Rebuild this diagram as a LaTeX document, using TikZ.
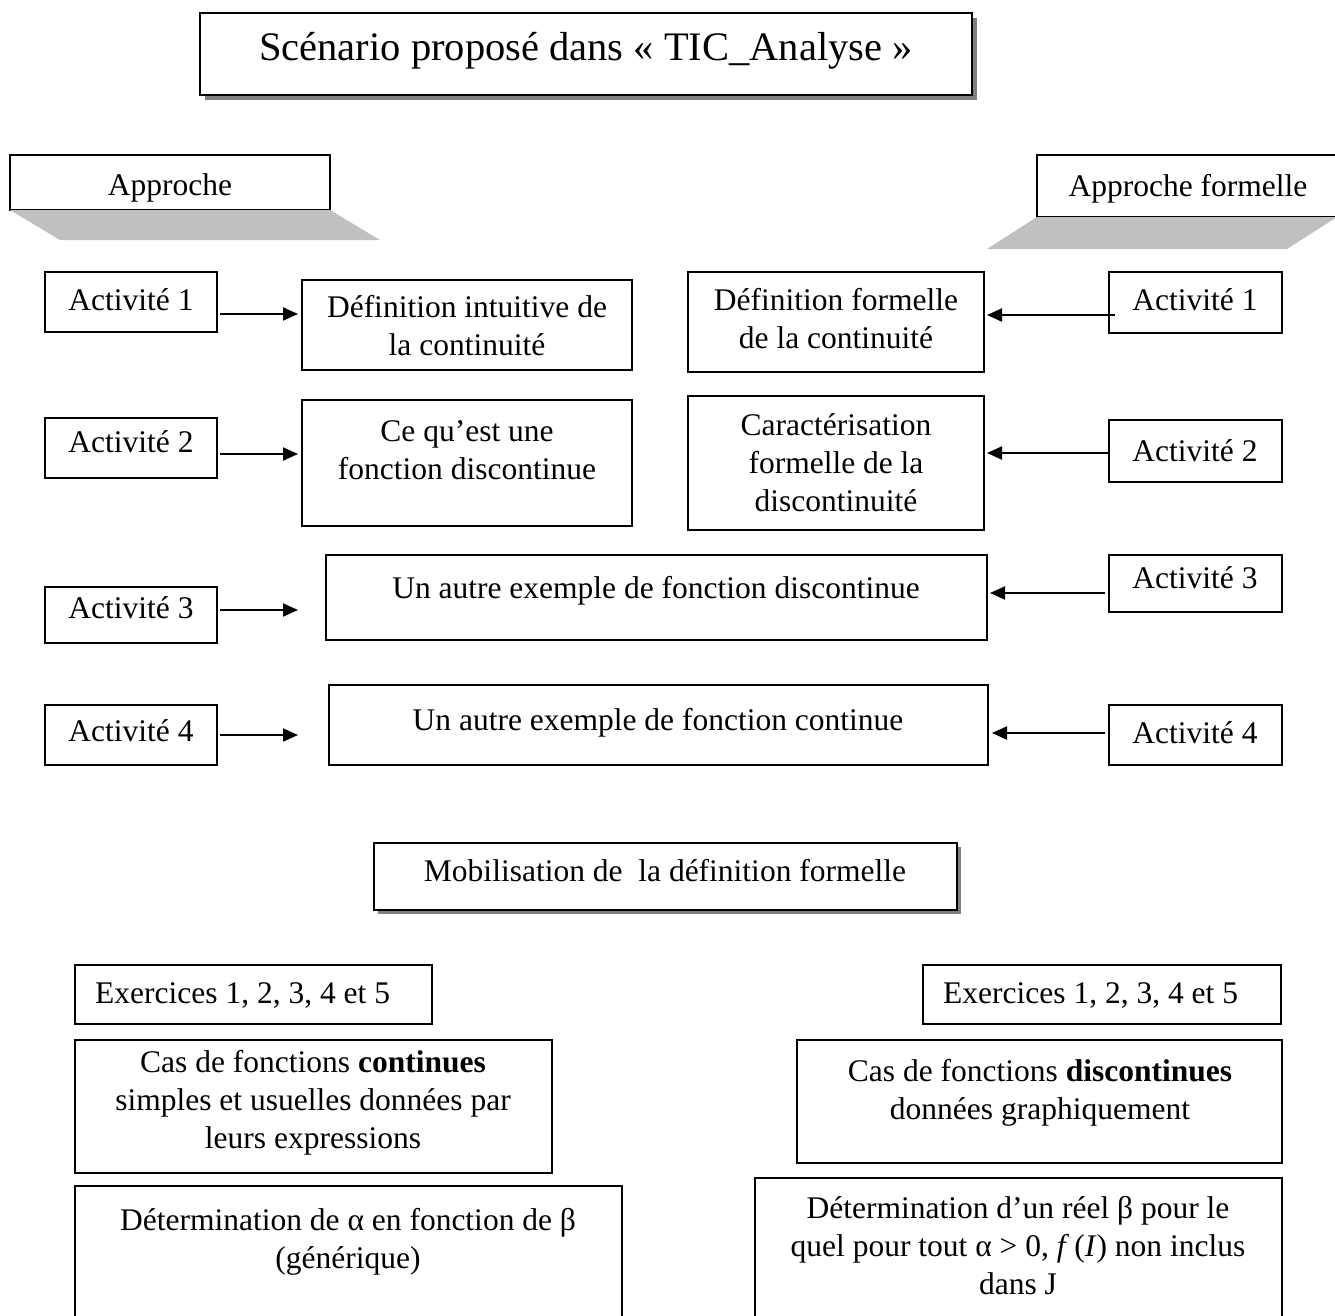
\documentclass[tikz,border=0pt]{standalone}
\usepackage{fontspec}
\setmainfont{Liberation Serif}
\usetikzlibrary{arrows.meta}
\definecolor{lightshadow}{HTML}{C0C0C0}
\definecolor{darkshadow}{HTML}{808080}
\newcommand\bx[6][]{\node[box,#1,minimum width={(#5-#3)*1pt},minimum height={(#6-#4)*1pt}] (#2) at ({(#3+#5)/2},{(#4+#6)/2}) {};}
\begin{document}
\begin{tikzpicture}[x=1pt,y=-1pt,
  box/.style={draw=black,fill=white,line width=2pt,inner sep=0pt,outer sep=0pt},
  txt/.style={anchor=base,inner sep=0pt,align=center,font=\fontsize{31.5}{38}\selectfont},
  ttl/.style={anchor=base,inner sep=0pt,font=\fontsize{40.5}{48}\selectfont},
  arr/.style={line width=2pt,-{Triangle[length=15pt,width=13pt]}}]
\useasboundingbox (0,0) rectangle (1335,1315);
\clip (0,0) rectangle (1335,1315);
\fill[white] (0,0) rectangle (1335,1315);
% title
\fill[darkshadow] (205,18) rectangle (977,100);
\bx{title}{200}{13}{972}{95}
\node[ttl] (ttitle) at (586,60) {Scénario proposé dans « TIC\_Analyse »};
% approche boxes with shadows
\bx{appL}{10}{155}{330}{210}
\fill[lightshadow] (appL.south west) -- (appL.south east) -- ++(50,30) -- ([shift={(50,30)}]appL.south west) -- cycle;
\node[txt] (tappL) at (170,195) {Approche};
\bx{appR}{1037}{155}{1337}{217}
\fill[lightshadow] (appR.south west) -- (appR.south east) -- ++(-50,32) -- ([shift={(-50,32)}]appR.south west) -- cycle;
\node[txt] (tappR) at (1188,196) {Approche formelle};
% row 1
\bx{a1L}{45}{272}{217}{332}
\node[txt] (ta1L) at (131,310) {Activité 1};
\bx{d1L}{302}{280}{632}{370}
\node[txt] (td1L) at (467,355) {Définition intuitive de\\la continuité};
\bx{d1R}{688}{272}{984}{372}
\node[txt] (td1R) at (836,348) {Définition formelle\\de la continuité};
\bx{a1R}{1109}{272}{1282}{333}
\node[txt] (ta1R) at (1195,310) {Activité 1};
% row 2
\bx{a2L}{45}{418}{217}{478}
\node[txt] (ta2L) at (131,452) {Activité 2};
\bx{d2L}{302}{400}{632}{526}
\node[txt] (td2L) at (467,479) {Ce qu’est une\\fonction discontinue};
\bx{d2R}{688}{396}{984}{530}
\node[txt] (td2R) at (836,511) {Caractérisation\\formelle de la\\discontinuité};
\bx{a2R}{1109}{420}{1282}{482}
\node[txt] (ta2R) at (1195,461) {Activité 2};
% row 3
\bx{a3L}{45}{587}{217}{643}
\node[txt] (ta3L) at (131,618) {Activité 3};
\bx{d3}{326}{555}{987}{640}
\node[txt] (td3) at (656,598) {Un autre exemple de fonction discontinue};
\bx{a3R}{1109}{555}{1282}{612}
\node[txt] (ta3R) at (1195,588) {Activité 3};
% row 4
\bx{a4L}{45}{705}{217}{765}
\node[txt] (ta4L) at (131,741) {Activité 4};
\bx{d4}{329}{685}{988}{765}
\node[txt] (td4) at (658,730) {Un autre exemple de fonction continue};
\bx{a4R}{1109}{705}{1282}{765}
\node[txt] (ta4R) at (1195,743) {Activité 4};
% arrow coordinates
\coordinate (s1L) at ([shift={(3,12)}]a1L.east);
\coordinate (e1L) at (s1L -| d1L.west);
\coordinate (s2L) at ([shift={(3,6)}]a2L.east);
\coordinate (e2L) at (s2L -| d2L.west);
\coordinate (s3L) at ([shift={(3,-5)}]a3L.east);
\coordinate (e3L) at (s3L -| d3.west);
\coordinate (s4L) at ([shift={(3,0)}]a4L.east);
\coordinate (e4L) at (s4L -| d4.west);
\coordinate (s1R) at ([shift={(6,12.5)}]a1R.west);
\coordinate (e1R) at (s1R -| d1R.east);
\coordinate (s2R) at ([shift={(0,2)}]a2R.west);
\coordinate (e2R) at (s2R -| d2R.east);
\coordinate (s3R) at ([shift={(-4,9.5)}]a3R.west);
\coordinate (e3R) at (s3R -| d3.east);
\coordinate (s4R) at ([shift={(-4,-2)}]a4R.west);
\coordinate (e4R) at (s4R -| d4.east);
% arrows left
\draw[arr] (s1L) -- ([xshift=-4pt]e1L);
\draw[arr] (s2L) -- ([xshift=-4pt]e2L);
\draw[arr] (s3L) -- ([xshift=-28pt]e3L);
\draw[arr] (s4L) -- ([xshift=-31pt]e4L);
% arrows right
\draw[arr] (s1R) -- ([xshift=3pt]e1R);
\draw[arr] (s2R) -- ([xshift=3pt]e2R);
\draw[arr] (s3R) -- ([xshift=3pt]e3R);
\draw[arr] (s4R) -- ([xshift=4pt]e4R);
% mobilisation
\fill[darkshadow] (378,847) rectangle (961,914);
\bx{mob}{374}{843}{957}{910}
\node[txt] (tmob) at (665,881) {Mobilisation de\ \ la définition formelle};
% bottom left
\bx{exL}{75}{965}{432}{1024}
\node[txt,anchor=base west] (texL) at (95,1003) {Exercices 1, 2, 3, 4 et 5};
\bx{casL}{75}{1040}{552}{1173}
\node[txt] (tcasL) at (313,1148) {Cas de fonctions \textbf{continues}\\simples et usuelles données par\\leurs expressions};
\bx{detL}{75}{1186}{622}{1340}
\node[txt] (tdetL) at (348,1268) {Détermination de α en fonction de β\\(générique)};
% bottom right
\bx{exR}{923}{965}{1281}{1024}
\node[txt,anchor=base west] (texR) at (943,1003) {Exercices 1, 2, 3, 4 et 5};
\bx{casR}{797}{1040}{1282}{1163}
\node[txt] (tcasR) at (1040,1119) {Cas de fonctions \textbf{discontinues}\\données graphiquement};
\bx{detR}{755}{1178}{1282}{1340}
\node[txt] (tdetR) at (1018,1294) {Détermination d’un réel β pour le\\quel pour tout α > 0, \textit{f}\,(\textit{I}) non inclus\\dans J};
\end{tikzpicture}
\end{document}
